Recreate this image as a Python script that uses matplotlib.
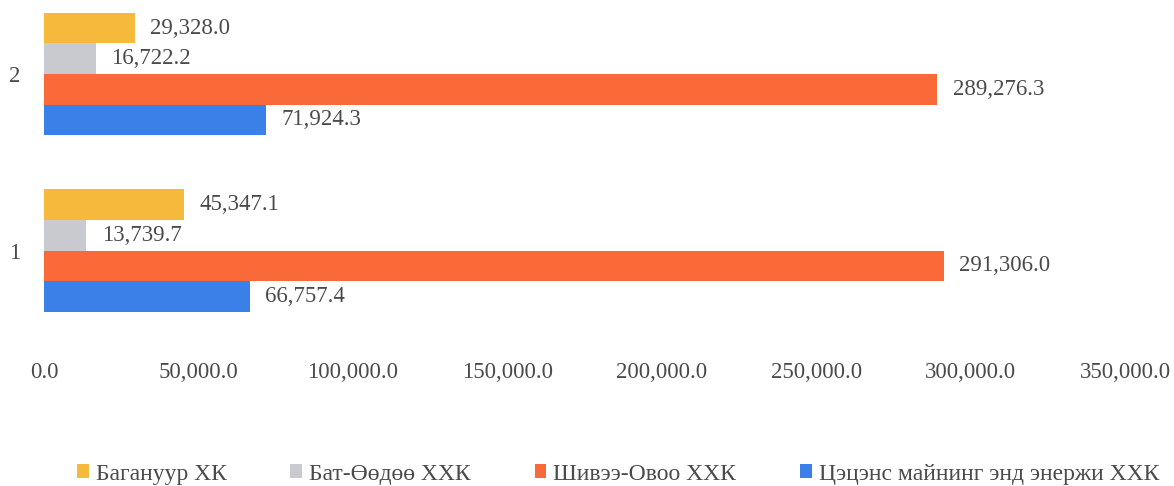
import matplotlib
matplotlib.use("Agg")
import matplotlib.pyplot as plt
import numpy as np

categories = ["1", "2"]
series_names = ["Багануур ХК", "Бат-Өөдөө ХХК", "Шивээ-Овоо ХХК",
                "Цэцэнс майнинг энд энержи ХХК"]
baganuur = [45347.1, 29328.0]
bat_oodoo = [13739.7, 16722.2]
shivee_ovoo = [291306.0, 289276.3]
tsetsens = [66757.4, 71924.3]
x_ticks = [0, 50000, 100000, 150000, 200000, 250000, 300000, 350000]

colors = ["#F5B93B", "#C9CACF", "#FA6A38", "#3B7FE8"]
text_color = "#4a4a4a"

plt.rcParams['font.family'] = ['Liberation Serif', 'DejaVu Serif']
FS = 16.5
LFS = 17

W, H = 1174, 486
fig = plt.figure(figsize=(W / 100, H / 100), dpi=100)
# axes in pixel coordinates
ax_left, ax_right = 44, 1125
ax_top, ax_bottom = 5, 330
ax = fig.add_axes([ax_left / W, 1 - ax_bottom / H,
                   (ax_right - ax_left) / W, (ax_bottom - ax_top) / H])

y = np.arange(len(categories))
h = 0.173
offsets = [1.5 * h, 0.5 * h, -0.5 * h, -1.5 * h]
all_series = [baganuur, bat_oodoo, shivee_ovoo, tsetsens]
handles = []
for vals, off, col, name in zip(all_series, offsets, colors, series_names):
    bars = ax.barh(y + off, vals, height=h, color=col, label=name)
    ax.bar_label(bars, labels=[f"{v:,.1f}" for v in vals], padding=11,
                 fontsize=FS, color=text_color)
    handles.append(bars)

ax.set_xlim(0, 350000)
ax.set_ylim(-0.450, 1.391)
ax.set_xticks(x_ticks)
ax.set_xticklabels([f"{v:,.1f}" for v in x_ticks])
ax.set_yticks(y)
ax.set_yticklabels(categories)
ax.tick_params(axis='x', length=0, pad=23, labelsize=FS, labelcolor=text_color)
ax.tick_params(axis='y', length=0, pad=17, labelsize=FS, labelcolor=text_color)
for s in ax.spines.values():
    s.set_visible(False)

leg = fig.legend(handles=handles, labels=series_names, ncol=4,
                 loc='center', bbox_to_anchor=(618 / W, 1 - 474 / H),
                 frameon=False, fontsize=LFS, handlelength=0.5,
                 handleheight=0.5, handletextpad=0.3, columnspacing=2.7,
                 labelcolor=text_color)

fig.savefig("out.png", dpi=100)
